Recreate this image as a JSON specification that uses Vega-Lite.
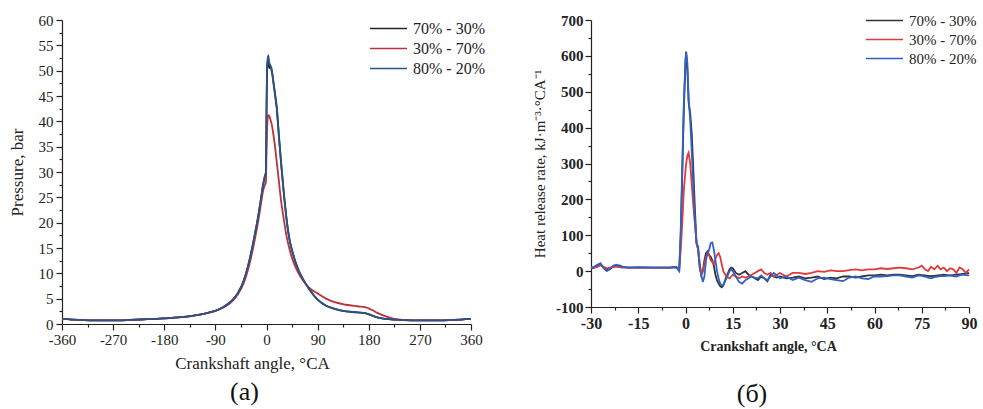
{
  "$schema": "https://vega.github.io/schema/vega-lite/v6.json",
  "padding": {"left": 8, "top": 5, "right": 0, "bottom": 5},
  "background": "white",
  "spacing": 47,
  "config": {
    "view": {"stroke": null},
    "font": "Liberation Serif, Times New Roman, serif",
    "axis": {"grid": false, "domainColor": "#222", "tickColor": "#222", "labelColor": "#222", "titleColor": "#222", "labelFont": "Liberation Serif, Times New Roman, serif", "titleFont": "Liberation Serif, Times New Roman, serif", "titleFontWeight": "normal", "domainWidth": 1.2, "tickWidth": 1.2},
    "legend": {"labelFont": "Liberation Serif, Times New Roman, serif", "labelColor": "#222"},
    "title": {"font": "Liberation Serif, Times New Roman, serif"}
  },
  "datasets": {
    "p": [
      {"x": -360, "70% - 30%": 1.0, "30% - 70%": 1.0, "80% - 20%": 1.0},
      {"x": -330, "70% - 30%": 0.8, "30% - 70%": 0.8, "80% - 20%": 0.8},
      {"x": -300, "70% - 30%": 0.7, "30% - 70%": 0.7, "80% - 20%": 0.7},
      {"x": -270, "70% - 30%": 0.7, "30% - 70%": 0.7, "80% - 20%": 0.7},
      {"x": -240, "70% - 30%": 0.8, "30% - 70%": 0.8, "80% - 20%": 0.8},
      {"x": -210, "70% - 30%": 0.95, "30% - 70%": 0.95, "80% - 20%": 0.95},
      {"x": -180, "70% - 30%": 1.1, "30% - 70%": 1.1, "80% - 20%": 1.1},
      {"x": -150, "70% - 30%": 1.35, "30% - 70%": 1.35, "80% - 20%": 1.35},
      {"x": -120, "70% - 30%": 1.8, "30% - 70%": 1.8, "80% - 20%": 1.8},
      {"x": -100, "70% - 30%": 2.3, "30% - 70%": 2.3, "80% - 20%": 2.3},
      {"x": -90, "70% - 30%": 2.6, "30% - 70%": 2.6, "80% - 20%": 2.6},
      {"x": -75, "70% - 30%": 3.4, "30% - 70%": 3.3, "80% - 20%": 3.4},
      {"x": -60, "70% - 30%": 4.7, "30% - 70%": 4.5, "80% - 20%": 4.7},
      {"x": -50, "70% - 30%": 6.2, "30% - 70%": 5.9, "80% - 20%": 6.2},
      {"x": -40, "70% - 30%": 8.6, "30% - 70%": 8.1, "80% - 20%": 8.6},
      {"x": -30, "70% - 30%": 12.6, "30% - 70%": 11.8, "80% - 20%": 12.6},
      {"x": -20, "70% - 30%": 18.0, "30% - 70%": 17.0, "80% - 20%": 18.0},
      {"x": -15, "70% - 30%": 21.0, "30% - 70%": 20.0, "80% - 20%": 21.0},
      {"x": -10, "70% - 30%": 24.5, "30% - 70%": 23.5, "80% - 20%": 24.5},
      {"x": -6, "70% - 30%": 27.5, "30% - 70%": 26.3, "80% - 20%": 27.5},
      {"x": -3, "70% - 30%": 29.0, "30% - 70%": 27.4, "80% - 20%": 29.2},
      {"x": -1, "70% - 30%": 30.0, "30% - 70%": 28.0, "80% - 20%": 30.0},
      {"x": 0, "70% - 30%": 41.0, "30% - 70%": 34.0, "80% - 20%": 42.0},
      {"x": 1, "70% - 30%": 50.0, "30% - 70%": 38.5, "80% - 20%": 51.0},
      {"x": 2, "70% - 30%": 51.5, "30% - 70%": 40.6, "80% - 20%": 52.2},
      {"x": 3, "70% - 30%": 52.3, "30% - 70%": 41.2, "80% - 20%": 53.0},
      {"x": 5, "70% - 30%": 50.5, "30% - 70%": 41.0, "80% - 20%": 51.5},
      {"x": 7, "70% - 30%": 50.8, "30% - 70%": 40.3, "80% - 20%": 51.0},
      {"x": 9, "70% - 30%": 50.0, "30% - 70%": 39.5, "80% - 20%": 50.4},
      {"x": 12, "70% - 30%": 47.8, "30% - 70%": 37.5, "80% - 20%": 48.0},
      {"x": 15, "70% - 30%": 45.2, "30% - 70%": 35.0, "80% - 20%": 45.5},
      {"x": 18, "70% - 30%": 42.5, "30% - 70%": 32.0, "80% - 20%": 43.0},
      {"x": 22, "70% - 30%": 36.8, "30% - 70%": 28.0, "80% - 20%": 37.0},
      {"x": 26, "70% - 30%": 31.3, "30% - 70%": 24.0, "80% - 20%": 31.5},
      {"x": 30, "70% - 30%": 26.4, "30% - 70%": 21.0, "80% - 20%": 26.5},
      {"x": 35, "70% - 30%": 21.0, "30% - 70%": 17.5, "80% - 20%": 21.0},
      {"x": 40, "70% - 30%": 17.0, "30% - 70%": 15.0, "80% - 20%": 17.0},
      {"x": 45, "70% - 30%": 14.5, "30% - 70%": 13.0, "80% - 20%": 14.5},
      {"x": 55, "70% - 30%": 11.0, "30% - 70%": 10.3, "80% - 20%": 11.0},
      {"x": 65, "70% - 30%": 8.7, "30% - 70%": 8.5, "80% - 20%": 8.7},
      {"x": 75, "70% - 30%": 6.9, "30% - 70%": 7.2, "80% - 20%": 6.9},
      {"x": 90, "70% - 30%": 4.8, "30% - 70%": 6.0, "80% - 20%": 4.8},
      {"x": 105, "70% - 30%": 3.6, "30% - 70%": 5.0, "80% - 20%": 3.6},
      {"x": 120, "70% - 30%": 3.0, "30% - 70%": 4.3, "80% - 20%": 3.0},
      {"x": 140, "70% - 30%": 2.5, "30% - 70%": 3.8, "80% - 20%": 2.5},
      {"x": 160, "70% - 30%": 2.3, "30% - 70%": 3.5, "80% - 20%": 2.3},
      {"x": 175, "70% - 30%": 2.1, "30% - 70%": 3.3, "80% - 20%": 2.1},
      {"x": 185, "70% - 30%": 1.7, "30% - 70%": 2.8, "80% - 20%": 1.7},
      {"x": 195, "70% - 30%": 1.3, "30% - 70%": 2.2, "80% - 20%": 1.3},
      {"x": 210, "70% - 30%": 1.0, "30% - 70%": 1.5, "80% - 20%": 1.0},
      {"x": 225, "70% - 30%": 0.85, "30% - 70%": 1.0, "80% - 20%": 0.85},
      {"x": 240, "70% - 30%": 0.75, "30% - 70%": 0.8, "80% - 20%": 0.75},
      {"x": 270, "70% - 30%": 0.7, "30% - 70%": 0.7, "80% - 20%": 0.7},
      {"x": 300, "70% - 30%": 0.7, "30% - 70%": 0.7, "80% - 20%": 0.7},
      {"x": 330, "70% - 30%": 0.8, "30% - 70%": 0.8, "80% - 20%": 0.8},
      {"x": 360, "70% - 30%": 1.0, "30% - 70%": 1.0, "80% - 20%": 1.0}
    ],
    "h": [
      {"x": -30, "70% - 30%": 8, "30% - 70%": 10, "80% - 20%": 10},
      {"x": -29, "70% - 30%": 10, "30% - 70%": 10, "80% - 20%": 12},
      {"x": -28, "70% - 30%": 14, "30% - 70%": 12, "80% - 20%": 18},
      {"x": -27, "70% - 30%": 20, "30% - 70%": 16, "80% - 20%": 22},
      {"x": -26, "70% - 30%": 10, "30% - 70%": 12, "80% - 20%": 8},
      {"x": -25, "70% - 30%": 4, "30% - 70%": 8, "80% - 20%": 0},
      {"x": -24, "70% - 30%": 6, "30% - 70%": 10, "80% - 20%": 5},
      {"x": -23, "70% - 30%": 12, "30% - 70%": 12, "80% - 20%": 15},
      {"x": -22, "70% - 30%": 15, "30% - 70%": 12, "80% - 20%": 18},
      {"x": -21, "70% - 30%": 16, "30% - 70%": 11, "80% - 20%": 14},
      {"x": -20, "70% - 30%": 12, "30% - 70%": 10, "80% - 20%": 12},
      {"x": -18, "70% - 30%": 10, "30% - 70%": 10, "80% - 20%": 10},
      {"x": -15, "70% - 30%": 10, "30% - 70%": 10, "80% - 20%": 11},
      {"x": -10, "70% - 30%": 10, "30% - 70%": 10, "80% - 20%": 10},
      {"x": -5, "70% - 30%": 10, "30% - 70%": 10, "80% - 20%": 10},
      {"x": -3, "70% - 30%": 11, "30% - 70%": 10, "80% - 20%": 12},
      {"x": -2.5, "70% - 30%": 8, "30% - 70%": 10, "80% - 20%": 5},
      {"x": -2, "70% - 30%": 2, "30% - 70%": 5, "80% - 20%": 0},
      {"x": -1.5, "70% - 30%": 100, "30% - 70%": 60, "80% - 20%": 120},
      {"x": -1, "70% - 30%": 280, "30% - 70%": 140, "80% - 20%": 300},
      {"x": -0.5, "70% - 30%": 460, "30% - 70%": 230, "80% - 20%": 480},
      {"x": 0, "70% - 30%": 580, "30% - 70%": 280, "80% - 20%": 590},
      {"x": 0.2, "70% - 30%": 612, "30% - 70%": 300, "80% - 20%": 610},
      {"x": 0.6, "70% - 30%": 560, "30% - 70%": 322, "80% - 20%": 580},
      {"x": 1, "70% - 30%": 470, "30% - 70%": 330, "80% - 20%": 480},
      {"x": 1.5, "70% - 30%": 440, "30% - 70%": 300, "80% - 20%": 420},
      {"x": 2, "70% - 30%": 380, "30% - 70%": 240, "80% - 20%": 330},
      {"x": 2.5, "70% - 30%": 280, "30% - 70%": 180, "80% - 20%": 230},
      {"x": 3, "70% - 30%": 170, "30% - 70%": 130, "80% - 20%": 140},
      {"x": 3.5, "70% - 30%": 80, "30% - 70%": 80, "80% - 20%": 75},
      {"x": 4, "70% - 30%": 60, "30% - 70%": 60, "80% - 20%": 70},
      {"x": 4.5, "70% - 30%": 10, "30% - 70%": 20, "80% - 20%": 20},
      {"x": 5, "70% - 30%": -10, "30% - 70%": -10, "80% - 20%": -10},
      {"x": 5.5, "70% - 30%": 0, "30% - 70%": 0, "80% - 20%": -30},
      {"x": 6, "70% - 30%": 30, "30% - 70%": 20, "80% - 20%": -15},
      {"x": 6.5, "70% - 30%": 50, "30% - 70%": 40, "80% - 20%": 30},
      {"x": 7, "70% - 30%": 55, "30% - 70%": 50, "80% - 20%": 50},
      {"x": 7.5, "70% - 30%": 45, "30% - 70%": 45, "80% - 20%": 60},
      {"x": 8, "70% - 30%": 40, "30% - 70%": 30, "80% - 20%": 78},
      {"x": 8.5, "70% - 30%": 30, "30% - 70%": 25, "80% - 20%": 80},
      {"x": 9, "70% - 30%": 15, "30% - 70%": 20, "80% - 20%": 60},
      {"x": 9.5, "70% - 30%": -10, "30% - 70%": 35, "80% - 20%": 30},
      {"x": 10, "70% - 30%": -25, "30% - 70%": 45, "80% - 20%": 0},
      {"x": 10.5, "70% - 30%": -35, "30% - 70%": 50, "80% - 20%": -20},
      {"x": 11, "70% - 30%": -42, "30% - 70%": 40, "80% - 20%": -35},
      {"x": 11.5, "70% - 30%": -45, "30% - 70%": 20, "80% - 20%": -40},
      {"x": 12, "70% - 30%": -40, "30% - 70%": 0, "80% - 20%": -38},
      {"x": 13, "70% - 30%": -15, "30% - 70%": -15, "80% - 20%": -20},
      {"x": 14, "70% - 30%": 5, "30% - 70%": -20, "80% - 20%": 0},
      {"x": 14.5, "70% - 30%": 10, "30% - 70%": -15, "80% - 20%": 5},
      {"x": 15, "70% - 30%": 8, "30% - 70%": -10, "80% - 20%": 0},
      {"x": 16, "70% - 30%": -5, "30% - 70%": -15, "80% - 20%": -15},
      {"x": 17, "70% - 30%": -10, "30% - 70%": -20, "80% - 20%": -30},
      {"x": 18, "70% - 30%": -5, "30% - 70%": -15, "80% - 20%": -35},
      {"x": 19, "70% - 30%": 0, "30% - 70%": -18, "80% - 20%": -25},
      {"x": 20, "70% - 30%": -10, "30% - 70%": -15, "80% - 20%": -20},
      {"x": 21, "70% - 30%": -15, "30% - 70%": -10, "80% - 20%": -15},
      {"x": 22, "70% - 30%": -20, "30% - 70%": -5, "80% - 20%": -18},
      {"x": 23, "70% - 30%": -25, "30% - 70%": 0, "80% - 20%": -20},
      {"x": 24, "70% - 30%": -15, "30% - 70%": 5, "80% - 20%": -12},
      {"x": 25, "70% - 30%": -20, "30% - 70%": -5, "80% - 20%": -20},
      {"x": 26, "70% - 30%": -28, "30% - 70%": -10, "80% - 20%": -25},
      {"x": 27, "70% - 30%": -10, "30% - 70%": -5, "80% - 20%": -15},
      {"x": 28, "70% - 30%": -15, "30% - 70%": -15, "80% - 20%": -5},
      {"x": 29, "70% - 30%": -18, "30% - 70%": -10, "80% - 20%": -12},
      {"x": 30, "70% - 30%": -15, "30% - 70%": -5, "80% - 20%": -20},
      {"x": 32, "70% - 30%": -20, "30% - 70%": -15, "80% - 20%": -15},
      {"x": 34, "70% - 30%": -18, "30% - 70%": -5, "80% - 20%": -25},
      {"x": 36, "70% - 30%": -15, "30% - 70%": -5, "80% - 20%": -18},
      {"x": 38, "70% - 30%": -20, "30% - 70%": -8, "80% - 20%": -25},
      {"x": 40, "70% - 30%": -18, "30% - 70%": -5, "80% - 20%": -30},
      {"x": 42, "70% - 30%": -15, "30% - 70%": 0, "80% - 20%": -20},
      {"x": 44, "70% - 30%": -22, "30% - 70%": -2, "80% - 20%": -18},
      {"x": 46, "70% - 30%": -18, "30% - 70%": 2, "80% - 20%": -22},
      {"x": 48, "70% - 30%": -20, "30% - 70%": 0, "80% - 20%": -25},
      {"x": 50, "70% - 30%": -15, "30% - 70%": 0, "80% - 20%": -28},
      {"x": 52, "70% - 30%": -15, "30% - 70%": 3, "80% - 20%": -18},
      {"x": 54, "70% - 30%": -18, "30% - 70%": 5, "80% - 20%": -15},
      {"x": 56, "70% - 30%": -15, "30% - 70%": 2, "80% - 20%": -20},
      {"x": 58, "70% - 30%": -12, "30% - 70%": 5, "80% - 20%": -22},
      {"x": 60, "70% - 30%": -12, "30% - 70%": 5, "80% - 20%": -15},
      {"x": 62, "70% - 30%": -10, "30% - 70%": 8, "80% - 20%": -15},
      {"x": 64, "70% - 30%": -12, "30% - 70%": 6, "80% - 20%": -14},
      {"x": 66, "70% - 30%": -10, "30% - 70%": 8, "80% - 20%": -12},
      {"x": 68, "70% - 30%": -10, "30% - 70%": 10, "80% - 20%": -12},
      {"x": 70, "70% - 30%": -12, "30% - 70%": 8, "80% - 20%": -15},
      {"x": 72, "70% - 30%": -14, "30% - 70%": 5, "80% - 20%": -18},
      {"x": 74, "70% - 30%": -10, "30% - 70%": 10, "80% - 20%": -12},
      {"x": 75, "70% - 30%": -11, "30% - 70%": 15, "80% - 20%": -13},
      {"x": 76, "70% - 30%": -12, "30% - 70%": 5, "80% - 20%": -15},
      {"x": 77, "70% - 30%": -13, "30% - 70%": 0, "80% - 20%": -18},
      {"x": 78, "70% - 30%": -14, "30% - 70%": 12, "80% - 20%": -20},
      {"x": 79, "70% - 30%": -13, "30% - 70%": 5, "80% - 20%": -17},
      {"x": 80, "70% - 30%": -12, "30% - 70%": 15, "80% - 20%": -15},
      {"x": 81, "70% - 30%": -11, "30% - 70%": 5, "80% - 20%": -14},
      {"x": 82, "70% - 30%": -10, "30% - 70%": 10, "80% - 20%": -14},
      {"x": 83, "70% - 30%": -11, "30% - 70%": 0, "80% - 20%": -13},
      {"x": 84, "70% - 30%": -12, "30% - 70%": 8, "80% - 20%": -12},
      {"x": 85, "70% - 30%": -11, "30% - 70%": 5, "80% - 20%": -14},
      {"x": 86, "70% - 30%": -10, "30% - 70%": -5, "80% - 20%": -15},
      {"x": 87, "70% - 30%": -9, "30% - 70%": 10, "80% - 20%": -12},
      {"x": 88, "70% - 30%": -8, "30% - 70%": 5, "80% - 20%": -10},
      {"x": 89, "70% - 30%": -7, "30% - 70%": -5, "80% - 20%": -11},
      {"x": 90, "70% - 30%": -5, "30% - 70%": 5, "80% - 20%": -12}
    ]
  },
  "hconcat": [
    {
      "width": 409,
      "height": 304,
      "title": {"text": "(a)", "orient": "bottom", "anchor": "middle", "fontSize": 26, "fontWeight": "normal", "color": "#111", "offset": 8, "dx": -22},
      "data": {"name": "p"},
      "transform": [{"fold": ["70% - 30%", "30% - 70%", "80% - 20%"], "as": ["s", "y"]}],
      "mark": {"type": "line", "strokeWidth": 1.8, "interpolate": "monotone"},
      "encoding": {
        "x": {"field": "x", "type": "quantitative", "scale": {"domain": [-360, 360], "nice": false},
          "axis": {"title": "Crankshaft angle, °CA", "titleFontSize": 17, "labelFontSize": 15, "titlePadding": 8, "titleX": 190,
            "values": [-360, -315, -270, -225, -180, -135, -90, -45, 0, 45, 90, 135, 180, 225, 270, 315, 360],
            "labelExpr": "datum.value % 90 === 0 ? '' + datum.value : ''",
            "tickSize": {"condition": {"test": "datum.value % 90 === 0", "value": 6}, "value": 3},
            "labelPadding": 2, "labelFlush": false}},
        "y": {"field": "y", "type": "quantitative", "scale": {"domain": [0, 60], "nice": false},
          "axis": {"title": "Pressure, bar", "titleFontSize": 17, "labelFontSize": 15, "titlePadding": 12,
            "values": [0, 2.5, 5, 7.5, 10, 12.5, 15, 17.5, 20, 22.5, 25, 27.5, 30, 32.5, 35, 37.5, 40, 42.5, 45, 47.5, 50, 52.5, 55, 57.5, 60],
            "labelExpr": "datum.value % 5 === 0 ? '' + datum.value : ''",
            "tickSize": {"condition": {"test": "datum.value % 5 === 0", "value": 6}, "value": 3},
            "labelPadding": 3, "labelFlush": false}},
        "color": {"field": "s", "type": "nominal", "sort": ["70% - 30%", "30% - 70%", "80% - 20%"],
          "scale": {"domain": ["70% - 30%", "30% - 70%", "80% - 20%"], "range": ["#262626", "#b8343a", "#2a5288"]},
          "legend": {"title": null, "orient": "none", "legendX": 325, "legendY": -2, "labelFontSize": 16, "symbolType": "M-2.9,0H1", "symbolSize": 361, "symbolStrokeWidth": 1.3, "labelOffset": 5, "rowPadding": 1, "padding": 0}}
      }
    },
    {
      "width": 378,
      "height": 287,
      "title": {"text": "(б)", "orient": "bottom", "anchor": "middle", "fontSize": 26, "fontWeight": "normal", "color": "#111", "offset": 28, "dx": -28},
      "data": {"name": "h"},
      "transform": [{"fold": ["70% - 30%", "30% - 70%", "80% - 20%"], "as": ["s", "y"]}],
      "mark": {"type": "line", "strokeWidth": 1.8},
      "encoding": {
        "x": {"field": "x", "type": "quantitative", "scale": {"domain": [-30, 90], "nice": false},
          "axis": {"title": "Crankshaft angle, °CA", "titleFontSize": 14, "titleFontWeight": "bold", "labelFontSize": 16, "labelFontWeight": "bold", "titlePadding": 8, "titleX": 177,
            "values": [-30, -22.5, -15, -7.5, 0, 7.5, 15, 22.5, 30, 37.5, 45, 52.5, 60, 67.5, 75, 82.5, 90],
            "labelExpr": "datum.value % 15 === 0 ? '' + datum.value : ''",
            "tickSize": {"condition": {"test": "datum.value % 15 === 0", "value": 6}, "value": 3},
            "labelPadding": 2, "labelFlush": false}},
        "y": {"field": "y", "type": "quantitative", "scale": {"domain": [-100, 700], "nice": false},
          "axis": {"title": "Heat release rate, kJ·m⁻³·°CA⁻¹", "titleFontSize": 15, "labelFontSize": 15, "labelFontWeight": "bold", "titlePadding": 8,
            "values": [-100, -50, 0, 50, 100, 150, 200, 250, 300, 350, 400, 450, 500, 550, 600, 650, 700],
            "labelExpr": "datum.value % 100 === 0 ? '' + datum.value : ''",
            "tickSize": {"condition": {"test": "datum.value % 100 === 0", "value": 6}, "value": 3},
            "labelPadding": 2, "labelFlush": false}},
        "color": {"field": "s", "type": "nominal", "sort": ["70% - 30%", "30% - 70%", "80% - 20%"],
          "scale": {"domain": ["70% - 30%", "30% - 70%", "80% - 20%"], "range": ["#333333", "#e23a3a", "#2f62c4"]},
          "legend": {"title": null, "orient": "none", "legendX": 287, "legendY": -15, "labelFontSize": 15, "symbolType": "M-2.9,0H1", "symbolSize": 361, "symbolStrokeWidth": 1.3, "labelOffset": 5, "rowPadding": 0, "padding": 5}}
      }
    }
  ],
  "resolve": {"scale": {"color": "independent"}}
}
